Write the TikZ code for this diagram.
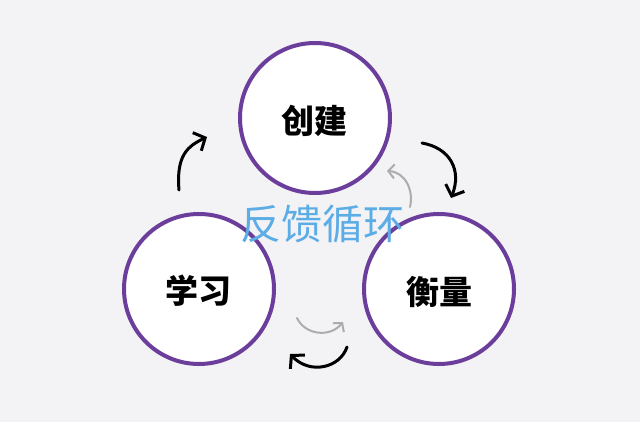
\documentclass[tikz,border=0pt]{standalone}
\usepackage{fontspec}
\newfontfamily\cjk{Noto Sans CJK SC}
\usetikzlibrary{arrows.meta}
\definecolor{ringpurple}{RGB}{108,62,156}
\definecolor{loopblue}{RGB}{92,172,230}
\definecolor{paper}{RGB}{243,243,245}

\begin{document}
\begin{tikzpicture}[x=1pt, y=-1pt,
  stage/.style={circle, draw=ringpurple, line width=4pt, fill=white, minimum size=150pt, inner sep=0pt},
  outer/.style={line width=3pt, line cap=round, -{Straight Barb[length=9pt, width=20pt]}},
  inner/.style={gray!65, line width=2pt, line cap=round, -{Straight Barb[length=6pt, width=14pt]}}]
\fill[paper] (0,0) rectangle (640,422);
\useasboundingbox (0,0) rectangle (640,422);
\node[stage] (create) at (315,118) {};
\node[stage] (learn) at (199,289) {};
\node[stage] (measure) at (439,289) {};
\node[font=\cjk\bfseries\fontsize{33}{33}\selectfont] (createtxt) at (314,121) {创建};
\node[font=\cjk\bfseries\fontsize{33}{33}\selectfont] (learntxt) at (198,291) {学习};
\node[font=\cjk\bfseries\fontsize{33}{33}\selectfont] (measuretxt) at (439,292) {衡量};
\node[font=\cjk\fontsize{41}{41}\selectfont, text=loopblue] (loop) at (322,224) {反馈循环};
% clockwise arrows
\draw[outer] (179,190) .. controls (176,155) and (188,146) .. (207,137);
\draw[outer] (422,143) .. controls (450,148) and (462,170) .. (451,198);
\draw[outer] (347,347) .. controls (340,368) and (310,375) .. (290,354);
% inner arrows
\draw[inner] (410,207) .. controls (414,190) and (405,172) .. (387,171);
\draw[inner] (297,318) .. controls (305,335) and (330,338) .. (343,322);
\end{tikzpicture}
\end{document}
